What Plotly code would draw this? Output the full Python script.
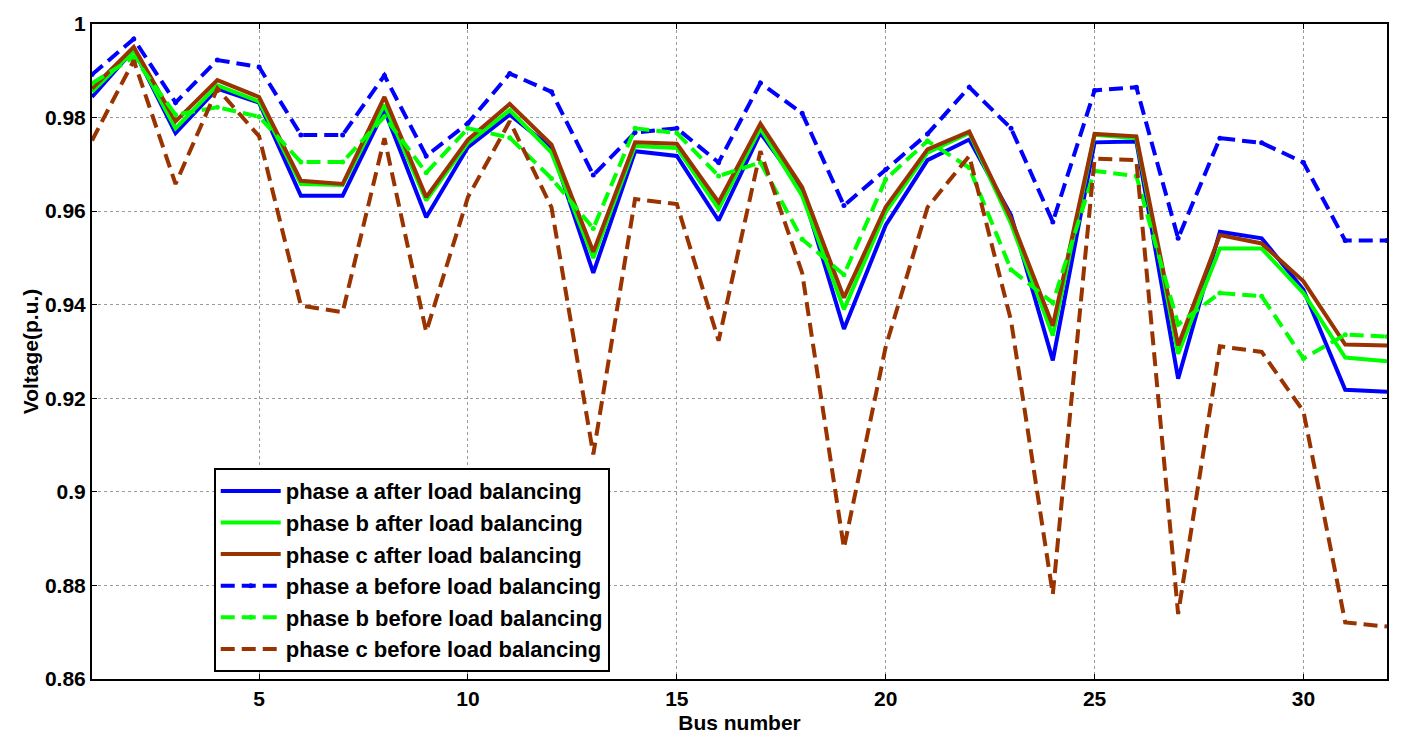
import plotly.graph_objects as go

bus = list(range(1, 33))

a_after = [0.9844, 0.9945, 0.9767, 0.9862, 0.9832, 0.9633, 0.9633, 0.9816, 0.9587, 0.9737,
           0.9806, 0.9735, 0.9468, 0.9728, 0.9718, 0.9580, 0.9767, 0.9645, 0.9348, 0.9570,
           0.9709, 0.9753, 0.9591, 0.9281, 0.9747, 0.9749, 0.9242, 0.9556, 0.9542, 0.9432,
           0.9218, 0.9214]
b_after = [0.9855, 0.9943, 0.9777, 0.9869, 0.9834, 0.9658, 0.9656, 0.9827, 0.9623, 0.9746,
           0.9816, 0.9725, 0.9500, 0.9739, 0.9735, 0.9605, 0.9777, 0.9633, 0.9390, 0.9598,
           0.9725, 0.9767, 0.9573, 0.9334, 0.9763, 0.9756, 0.9295, 0.9520, 0.9520, 0.9425,
           0.9287, 0.9279]
c_after = [0.9862, 0.9951, 0.9792, 0.9880, 0.9844, 0.9665, 0.9658, 0.9844, 0.9630, 0.9753,
           0.9829, 0.9742, 0.9513, 0.9747, 0.9744, 0.9619, 0.9787, 0.9651, 0.9415, 0.9609,
           0.9732, 0.9770, 0.9584, 0.9355, 0.9765, 0.9760, 0.9313, 0.9549, 0.9531, 0.9450,
           0.9315, 0.9313]
a_before = [0.9892, 0.9968, 0.9832, 0.9923, 0.9908, 0.9763, 0.9763, 0.9890, 0.9718, 0.9788,
            0.9894, 0.9855, 0.9677, 0.9768, 0.9777, 0.9704, 0.9874, 0.9809, 0.9612, 0.9689,
            0.9765, 0.9865, 0.9777, 0.9577, 0.9858, 0.9865, 0.9542, 0.9756, 0.9746, 0.9704,
            0.9537, 0.9537]
b_before = [0.9873, 0.9929, 0.9806, 0.9822, 0.9802, 0.9705, 0.9705, 0.9802, 0.9682, 0.9777,
            0.9757, 0.9670, 0.9563, 0.9777, 0.9767, 0.9675, 0.9704, 0.9540, 0.9464, 0.9668,
            0.9750, 0.9693, 0.9475, 0.9404, 0.9686, 0.9675, 0.9358, 0.9425, 0.9418, 0.9285,
            0.9336, 0.9332]
c_before = [0.9751, 0.9922, 0.9658, 0.9862, 0.9760, 0.9398, 0.9384, 0.9756, 0.9342, 0.9630,
            0.9792, 0.9608, 0.9080, 0.9626, 0.9615, 0.9323, 0.9728, 0.9468, 0.8880, 0.9310,
            0.9608, 0.9718, 0.9366, 0.8781, 0.9712, 0.9709, 0.8739, 0.9311, 0.9299, 0.9172,
            0.8721, 0.8712]

x_ticks = [5, 10, 15, 20, 25, 30]
y_ticks = [0.86, 0.88, 0.90, 0.92, 0.94, 0.96, 0.98, 1.0]
y_tick_labels = ["0.86", "0.88", "0.9", "0.92", "0.94", "0.96", "0.98", "1"]

BLUE = "#0000FF"
GREEN = "#00FF00"
BROWN = "#993300"
DASH = "14px,7px"

series = [
    ("phase a after load balancing", a_after, BLUE, "solid", False),
    ("phase b after load balancing", b_after, GREEN, "solid", False),
    ("phase c after load balancing", c_after, BROWN, "solid", False),
    ("phase a before load balancing", a_before, BLUE, DASH, True),
    ("phase b before load balancing", b_before, GREEN, DASH, True),
    ("phase c before load balancing", c_before, BROWN, DASH, False),
]

fig = go.Figure()
for i, (name, vals, col, dash, mk) in enumerate(series):
    fig.add_trace(go.Scatter(
        x=bus, y=vals, name=name,
        mode="lines+markers" if mk else "lines",
        line=dict(color=col, width=4, dash=dash),
        marker=dict(size=5, color=col),
        legendgroup=f"g{i}",
    ))

font_family = "Liberation Sans, Arial, sans-serif"

fig.update_layout(
    width=1402, height=743,
    margin=dict(l=92, r=15, t=15, b=64),
    paper_bgcolor="white", plot_bgcolor="white",
    font=dict(family=font_family, color="black", size=21),
    showlegend=True,
    legend=dict(
        x=0.094, y=0.322, xanchor="left", yanchor="top",
        bgcolor="white", bordercolor="black", borderwidth=2,
        font=dict(family=font_family, size=22, color="black", weight="bold"),
        traceorder="grouped", tracegroupgap=0,
        itemwidth=60,
    ),
    xaxis=dict(
        range=[1, 32], tickmode="array", tickvals=x_ticks,
        ticks="inside", ticklen=5, tickcolor="black",
        showline=True, linecolor="black", linewidth=2, mirror="ticks",
        showgrid=True, gridcolor="#9a9a9a", griddash="dot", gridwidth=1,
        zeroline=False,
        tickfont=dict(family=font_family, size=21, weight="bold"),
        title=dict(text="<b>Bus number</b>", font=dict(family=font_family, size=21), standoff=6),
    ),
    yaxis=dict(
        range=[0.86, 1.0], tickmode="array", tickvals=y_ticks, ticktext=y_tick_labels,
        ticks="inside", ticklen=5, tickcolor="black",
        showline=True, linecolor="black", linewidth=2, mirror="ticks",
        showgrid=True, gridcolor="#9a9a9a", griddash="dot", gridwidth=1,
        zeroline=False,
        tickfont=dict(family=font_family, size=21, weight="bold"),
        title=dict(text="<b>Voltage(p.u.)</b>", font=dict(family=font_family, size=21), standoff=1),
    ),
)

fig.write_html("out.html")
